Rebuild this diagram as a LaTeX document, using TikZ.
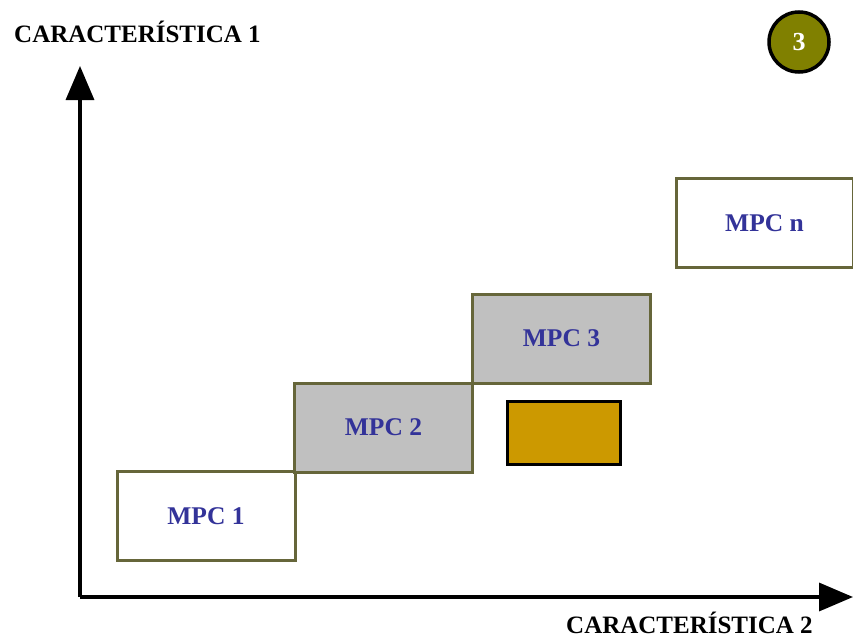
\documentclass[tikz,border=0pt]{standalone}
\usepackage{fontspec}
\setmainfont{Liberation Serif}
\usetikzlibrary{arrows.meta}
\definecolor{olivebd}{HTML}{66663A}
\definecolor{mpcfill}{HTML}{C0C0C0}
\definecolor{mpctext}{HTML}{333399}
\definecolor{orangefill}{HTML}{CC9900}
\definecolor{circfill}{HTML}{808000}
\begin{document}
\begin{tikzpicture}[x=1pt,y=-1pt,
  mpcbox/.style={draw=olivebd,line width=3pt,minimum width=178pt,minimum height=89pt,inner sep=0pt,
    font=\fontsize{25.5}{28}\selectfont\bfseries,text=mpctext},
  axis/.style={line width=3.5pt,-{Triangle[length=34pt,width=28pt]}},
  axlabel/.style={font=\fontsize{25}{28}\selectfont\bfseries,inner sep=0pt}]
\useasboundingbox (0,0) rectangle (853,637);
\coordinate (o) at (80,597);
\coordinate (ytop) at (80,66);
\coordinate (xend) at (853,597);
\draw[axis] (o) -- (ytop);
\draw[axis] (o) -- (xend);
\node[axlabel,anchor=base west] (l1) at (14,42) {CARACTERÍSTICA 1};
\node[axlabel,anchor=base west] (l2) at (566,633) {CARACTERÍSTICA 2};
\node[mpcbox,fill=white] (m1) at (206,516) {MPC 1};
\node[mpcbox,fill=mpcfill] (m2) at (383.5,427.5) {MPC 2};
\node[mpcbox,fill=mpcfill] (m3) at (561.5,338.5) {MPC 3};
\node[mpcbox,fill=white,minimum width=177pt] (mn) at (764.5,223) {MPC n};
\node[draw=black,line width=3pt,fill=orangefill,minimum width=113pt,minimum height=63pt,inner sep=0pt] (ob) at (564,433) {};
\node[circle,draw=black,line width=3.5pt,fill=circfill,minimum size=60pt,inner sep=0pt,text=white,
  font=\fontsize{26}{28}\selectfont\bfseries] (c3) at (799,42) {3};
\end{tikzpicture}
\end{document}
